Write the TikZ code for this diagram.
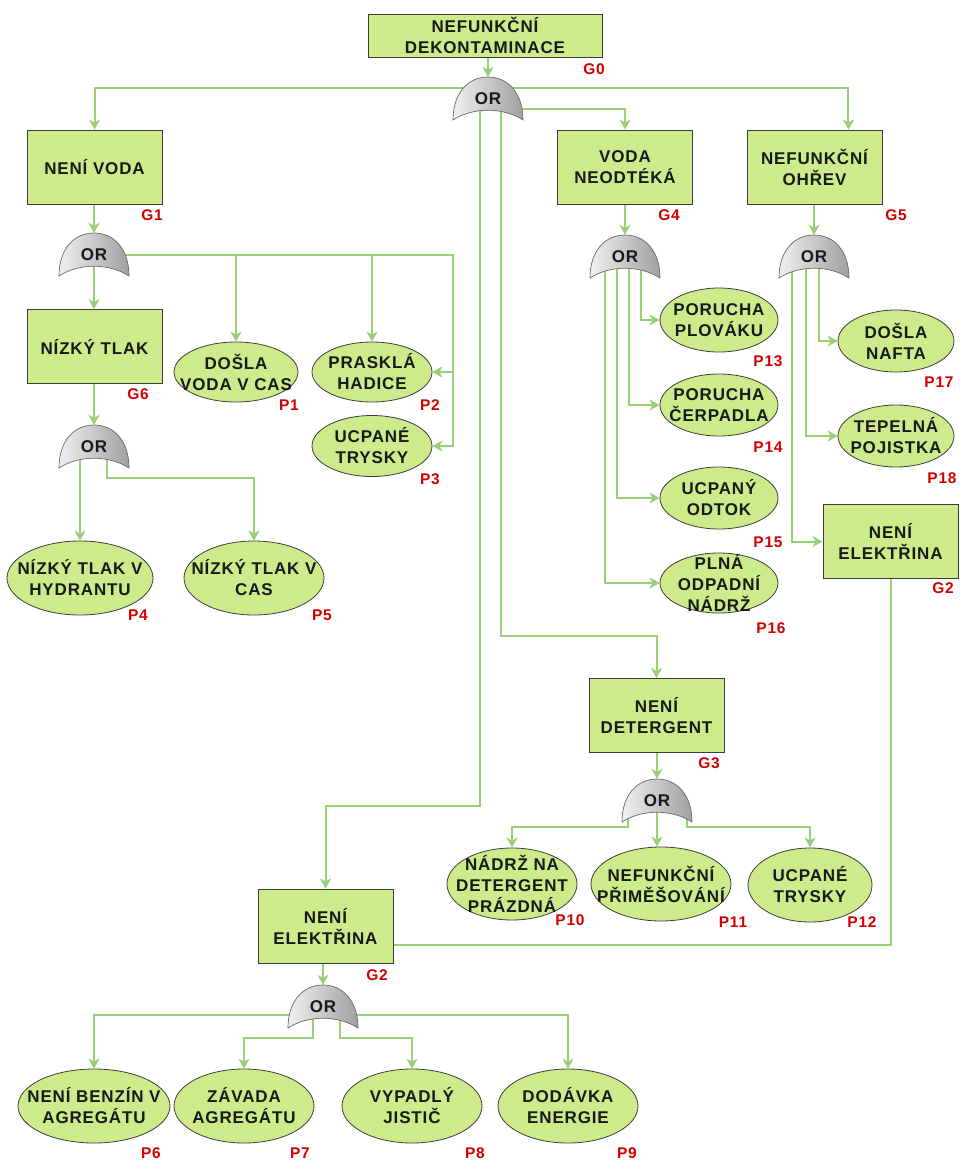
\documentclass[tikz,border=0pt]{standalone}
\usepackage{fontspec}
\setmainfont{Liberation Sans}[LetterSpace=5]
\usetikzlibrary{arrows.meta,calc,shapes.geometric,backgrounds}
\definecolor{evfill}{HTML}{CDEB8B}
\definecolor{evline}{HTML}{3C3C3C}
\definecolor{wire}{HTML}{97D077}
\definecolor{tagred}{HTML}{D40000}
\definecolor{gatehi}{HTML}{F0F0F0}
\definecolor{gatelo}{HTML}{A0A0A0}
\definecolor{gateline}{HTML}{6A6A6A}
\tikzset{
  txt/.style  ={font=\fontsize{17}{21}\selectfont\bfseries, align=center, text=black!90},
  ev/.style   ={txt, draw=evline, line width=0.9pt, fill=evfill, inner sep=2pt,
                minimum width=135pt, minimum height=74pt},
  head/.style ={ev, minimum width=234pt, minimum height=43pt},
  bev/.style  ={ellipse, draw=evline, line width=0.8pt, fill=evfill, inner sep=0pt},
  gate/.style ={txt, inner sep=0pt, minimum width=70pt, minimum height=43pt},
  gateshape/.style={left color=gatehi, right color=gatelo, draw=gateline, line width=0.7pt},
  tag/.style  ={font=\fontsize{15.5}{15.5}\selectfont\bfseries, text=tagred, inner sep=0pt},
  fl/.style   ={draw=wire, line width=2pt, -{Stealth[length=10pt,width=11pt,inset=3pt]}},
  ln/.style   ={draw=wire, line width=2pt},
}
% OR gate: shaded dome with a hollow base, label on top
\newcommand{\orgate}[2]{%
  \shadedraw[gateshape, shift={(#2)}]
    (-35pt,-21.5pt) .. controls (-35pt,5.5pt) and (-20pt,21.5pt) .. (0pt,21.5pt)
    .. controls (20pt,21.5pt) and (35pt,5.5pt) .. (35pt,-21.5pt)
    .. controls (15pt,-8.5pt) and (-15pt,-8.5pt) .. (-35pt,-21.5pt) -- cycle;
  \node[gate] (#1) at (#2) {OR};}

\begin{document}
\begin{tikzpicture}[x=1pt,y=-1pt]
  \useasboundingbox (0,0) rectangle (960,1160);

  % ---------------- top event and its gate ----------------
  \node[head] (g0) at (485,35.5) {NEFUNKČNÍ\\DEKONTAMINACE};
  \node[tag]  (t0) at (594,69) {G0};
  \orgate{or0}{488,98.5}

  % ---------------- left branch: water ----------------
  \node[ev]   (g1) at (94.5,167) {NENÍ VODA};
  \node[tag]  (t1) at (152,215) {G1};
  \orgate{or1}{94,254.5}
  \node[ev]   (g6) at (94.5,346.5) {NÍZKÝ TLAK};
  \node[tag]  (t6) at (138,394) {G6};
  \orgate{or6}{94,446.5}
  \node[bev, minimum width=124pt, minimum height=60pt, label={[txt]center:{DOŠLA\\VODA V CAS}}] (p1) at (236,372) {};
  \node[bev, minimum width=120pt, minimum height=60pt, label={[txt]center:{PRASKLÁ\\HADICE}}] (p2) at (372,372) {};
  \node[bev, minimum width=120pt, minimum height=61pt, label={[txt]center:{UCPANÉ\\TRYSKY}}] (p3) at (372,446) {};
  \node[bev, minimum width=146pt, minimum height=74pt, label={[txt]center:{NÍZKÝ TLAK V\\HYDRANTU}}] (p4) at (80,578) {};
  \node[bev, minimum width=140pt, minimum height=74pt, label={[txt]center:{NÍZKÝ TLAK V\\CAS}}] (p5) at (254,578) {};
  \node[tag] (tp1) at (289,405) {P1};
  \node[tag] (tp2) at (430,405) {P2};
  \node[tag] (tp3) at (430,479) {P3};
  \node[tag] (tp4) at (138,615) {P4};
  \node[tag] (tp5) at (322,615) {P5};

  % ---------------- drain and heating ----------------
  \node[ev]   (g4) at (625,167) {VODA\\NEODTÉKÁ};
  \node[tag]  (t4) at (669,215) {G4};
  \orgate{or4}{625,256.5}
  \node[ev]   (g5) at (814.5,167) {NEFUNKČNÍ\\OHŘEV};
  \node[tag]  (t5) at (896,215) {G5};
  \orgate{or5}{814,256.5}
  \node[bev, minimum width=118pt, minimum height=64pt, label={[txt]center:{PORUCHA\\PLOVÁKU}}] (p13) at (719,320) {};
  \node[bev, minimum width=118pt, minimum height=62pt, label={[txt]center:{PORUCHA\\ČERPADLA}}] (p14) at (719,405) {};
  \node[bev, minimum width=118pt, minimum height=62pt, label={[txt]center:{UCPANÝ\\ODTOK}}] (p15) at (719,498) {};
  \node[bev, minimum width=118pt, minimum height=60pt, label={[txt]center:{PLNÁ\\ODPADNÍ\\NÁDRŽ}}] (p16) at (719,583) {};
  \node[bev, minimum width=116pt, minimum height=62pt, label={[txt]center:{DOŠLA\\NAFTA}}] (p17) at (896,341) {};
  \node[bev, minimum width=116pt, minimum height=62pt, label={[txt]center:{TEPELNÁ\\POJISTKA}}] (p18) at (896,436) {};
  \node[ev]   (g2b) at (890.5,541.5) {NENÍ\\ELEKTŘINA};
  \node[tag] (tp13) at (768,361) {P13};
  \node[tag] (tp14) at (768,447) {P14};
  \node[tag] (tp15) at (768,542) {P15};
  \node[tag] (tp16) at (771,628) {P16};
  \node[tag] (tp17) at (939,382) {P17};
  \node[tag] (tp18) at (942,478) {P18};
  \node[tag] (t2b)  at (943,588) {G2};

  % ---------------- detergent ----------------
  \node[ev]   (g3) at (656.5,715.5) {NENÍ\\DETERGENT};
  \node[tag]  (t3) at (709,763) {G3};
  \orgate{or3}{657,800.5}
  \node[bev, minimum width=130pt, minimum height=72pt, label={[txt]center:{NÁDRŽ NA\\DETERGENT\\PRÁZDNÁ}}] (p10) at (512,884) {};
  \node[bev, minimum width=140pt, minimum height=74pt, label={[txt]center:{NEFUNKČNÍ\\PŘIMĚŠOVÁNÍ}}] (p11) at (661,884) {};
  \node[bev, minimum width=124pt, minimum height=74pt, label={[txt]center:{UCPANÉ\\TRYSKY}}] (p12) at (810,885) {};
  \node[tag] (tp10) at (570,920) {P10};
  \node[tag] (tp11) at (733,922) {P11};
  \node[tag] (tp12) at (862,922) {P12};

  % ---------------- electricity ----------------
  \node[ev]   (g2) at (325.5,926) {NENÍ\\ELEKTŘINA};
  \node[tag]  (t2) at (377,975) {G2};
  \orgate{or2}{323,1006.5}
  \node[bev, minimum width=152pt, minimum height=74pt, label={[txt]center:{NENÍ BENZÍN V\\AGREGÁTU}}] (p6) at (94,1106) {};
  \node[bev, minimum width=140pt, minimum height=74pt, label={[txt]center:{ZÁVADA\\AGREGÁTU}}] (p7) at (244,1106) {};
  \node[bev, minimum width=140pt, minimum height=74pt, label={[txt]center:{VYPADLÝ\\JISTIČ}}] (p8) at (412,1106) {};
  \node[bev, minimum width=140pt, minimum height=74pt, label={[txt]center:{DODÁVKA\\ENERGIE}}] (p9) at (568,1106) {};
  \node[tag] (tp6) at (151,1153) {P6};
  \node[tag] (tp7) at (300,1153) {P7};
  \node[tag] (tp8) at (475,1153) {P8};
  \node[tag] (tp9) at (627,1153) {P9};

  % connectors go behind the gates, so they may start at a gate's centre
  \begin{scope}[on background layer]
    \draw[fl] (g0.south -| or0.north) -- (or0.north);
    \draw[fl] ($(or0.center)+(0,-10.5)$) -| (g1.north);
    \draw[fl] ($(or0.center)+(0,-10.5)$) -| ($(g5.north)!0.5!(g5.north east)$);
    \draw[fl] ($(or0.center)+(0,10.5)$) -| (g4.north);
    \draw[fl] ($(or0.center)+(-8,0)$) -- ++(0,707.5) -| (g2.north);
    \draw[fl] ($(or0.center)+(13,0)$) -- ++(0,537.5) -| (g3.north);

    \draw[fl] (g1.south -| or1.north) -- (or1.north);
    \draw[fl] (or1.center) -- (g6.north -| or1.center);
    \draw[fl] (or1.center) -| (p1.north);
    \draw[fl] (or1.center) -| (p2.north);
    \draw[fl] (or1.center) -- ++(359,0) |- (p2.east);
    \draw[fl] (or1.center) -- ++(359,0) |- (p3.east);
    \draw[fl] (g6.south -| or6.north) -- (or6.north);
    \draw[fl] ($(or6.center)+(-14,0)$) -- (p4.north);
    \draw[fl] ($(or6.center)+(13,0)$) -- ++(0,31.5) -| (p5.north);

    \draw[fl] (g4.south) -- (or4.north);
    \foreach \dx/\p in {16/p13, 4/p14, -8/p15, -20/p16}
      \draw[fl] ($(or4.center)+(\dx,0)$) |- (\p.west);
    \draw[fl] (g5.south -| or5.north) -- (or5.north);
    \foreach \dx/\p in {5/p17, -8/p18, -22/g2b}
      \draw[fl] ($(or5.center)+(\dx,0)$) |- (\p.west);
    \draw[ln] (g2b.south) |- ($(g2.east)+(0,19)$);

    \draw[fl] (g3.south -| or3.north) -- (or3.north);
    \draw[fl] ($(or3.center)+(-29,0)$) -- ++(0,26.5) -| (p10.north);
    \draw[fl] (or3.center) -- (or3.center |- p11.north);
    \draw[fl] ($(or3.center)+(30,0)$) -- ++(0,26.5) -| (p12.north);

    \draw[fl] (g2.south -| or2.north) -- (or2.north);
    \draw[fl] ($(or2.center)+(0,8)$) -| (p6.north);
    \draw[fl] ($(or2.center)+(-10,0)$) -- ++(0,31.5) -| (p7.north);
    \draw[fl] ($(or2.center)+(17,0)$) -- ++(0,31.5) -| (p8.north);
    \draw[fl] ($(or2.center)+(0,8)$) -| (p9.north);
  \end{scope}
\end{tikzpicture}
\end{document}
